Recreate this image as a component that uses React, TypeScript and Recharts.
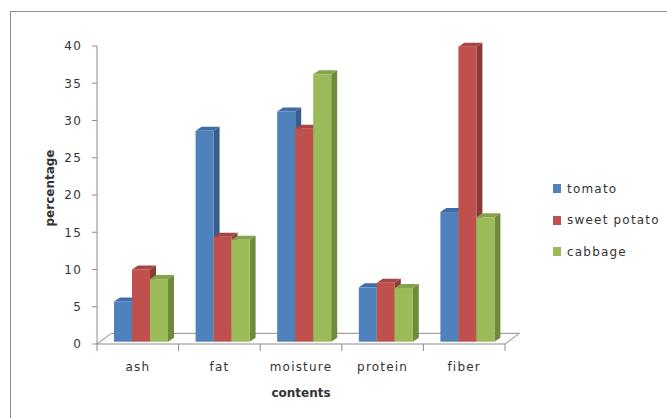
import { BarChart, Bar, XAxis, YAxis, ReferenceLine } from "recharts";

const categories = ["ash", "fat", "moisture", "protein", "fiber"];
const tomato = [5.4, 28.3, 30.9, 7.3, 17.4];
const sweetPotato = [9.7, 14.1, 28.6, 7.9, 39.6];
const cabbage = [8.4, 13.7, 35.9, 7.2, 16.7];
const yTicks = [0, 5, 10, 15, 20, 25, 30, 35, 40];

const series = [
  { key: "tomato", name: "tomato", color: "#4F81BD", side: "#385D8A", top: "#3F6DA5" },
  { key: "sweetPotato", name: "sweet potato", color: "#C0504D", side: "#8A3A38", top: "#A64542" },
  { key: "cabbage", name: "cabbage", color: "#9BBB59", side: "#6E8A3A", top: "#85A34A" },
];

const data = categories.map((name, i) => ({
  name,
  tomato: tomato[i],
  sweetPotato: sweetPotato[i],
  cabbage: cabbage[i],
}));

const FONT = "'DejaVu Sans', sans-serif";
const TEXT = "#333";
const AXIS = "#8c8c8c";

// depth of the bars and of the floor (fake 3D like the Excel original)
const DX = 6, DY = -4;
const SX = 3, SY = -2.3;
const FX = 14.5, FY = -10.7;

function bar3d(s: (typeof series)[number]) {
  return (p: any) => {
    if (p.width == null || p.height == null) return null;
    const x = p.x + SX, y = p.y + SY, w = p.width, h = p.height;
    return (
      <g>
        <polygon points={`${x + w},${y} ${x + w + DX},${y + DY} ${x + w + DX},${y + h + DY} ${x + w},${y + h}`} fill={s.side} />
        <polygon points={`${x},${y} ${x + DX},${y + DY} ${x + w + DX},${y + DY} ${x + w},${y}`} fill={s.top} />
        <rect x={x} y={y} width={w} height={h} fill={s.color} />
      </g>
    );
  };
}

const Floor = (p: any) => {
  const { x1, x2, y1 } = p;
  const n = categories.length;
  const step = (x2 - x1) / n;
  return (
    <g stroke={AXIS} strokeWidth={1} fill="none">
      <path d={`M${x1},${y1} L${x1 + FX},${y1 + FY} L${x2 + FX},${y1 + FY} L${x2},${y1} Z`} />
      {Array.from({ length: n + 1 }, (_, i) => (
        <line key={i} x1={x1 + i * step} x2={x1 + i * step} y1={y1} y2={y1 + 7} />
      ))}
    </g>
  );
};

export default function App() {
  return (
    <div style={{ position: "absolute", left: 0, top: 0, width: 667, height: 418, overflow: "hidden", background: "#fff" }}>
      <div style={{ position: "absolute", left: 10, top: 11, width: 700, height: 450, border: "1px solid #8c8c8c" }} />
      <div style={{ position: "absolute", left: 0, top: 0 }}>
        <BarChart
          width={667}
          height={418}
          data={data}
          margin={{ top: 46, right: 162, bottom: 44, left: 0 }}
          barGap={0}
          barSize={18}
        >
          <XAxis
            dataKey="name"
            height={30}
            axisLine={false}
            tickLine={false}
            tickMargin={12}
            tick={{ fill: TEXT, fontSize: 12, fontFamily: FONT, letterSpacing: 1.2 }}
            label={(p: any) => {
              const vb = p.viewBox;
              return (
                <text x={vb.x + vb.width / 2} y={397} textAnchor="middle" fill={TEXT} fontSize={12} fontWeight="bold" fontFamily={FONT}>
                  contents
                </text>
              );
            }}
          />
          <YAxis
            width={97}
            domain={[0, 40]}
            ticks={yTicks}
            interval={0}
            stroke={AXIS}
            tickSize={5}
            tickMargin={10}
            tick={{ fill: TEXT, fontSize: 12, fontFamily: FONT, letterSpacing: 1.2 }}
            label={(p: any) => {
              const vb = p.viewBox;
              const cy = vb.y + vb.height / 2 - 7;
              return (
                <text x={54} y={cy} transform={`rotate(-90 54 ${cy})`} textAnchor="middle" fill={TEXT} fontSize={12} fontWeight="bold" fontFamily={FONT}>
                  percentage
                </text>
              );
            }}
          />
          <ReferenceLine y={0} zIndex={-60} shape={Floor} />
          {series.map((s) => (
            <Bar key={s.key} dataKey={s.key} name={s.name} fill={s.color} shape={bar3d(s)} isAnimationActive={false} />
          ))}
        </BarChart>
      </div>
      <div style={{ position: "absolute", left: 553, top: 173, fontFamily: FONT, fontSize: 12, color: TEXT, letterSpacing: 1.2 }}>
        {series.map((s) => (
          <div key={s.key} style={{ display: "flex", alignItems: "center", height: 31.5 }}>
            <span style={{ display: "inline-block", width: 8, height: 9, background: s.color, marginRight: 6 }} />
            <span>{s.name}</span>
          </div>
        ))}
      </div>
    </div>
  );
}
